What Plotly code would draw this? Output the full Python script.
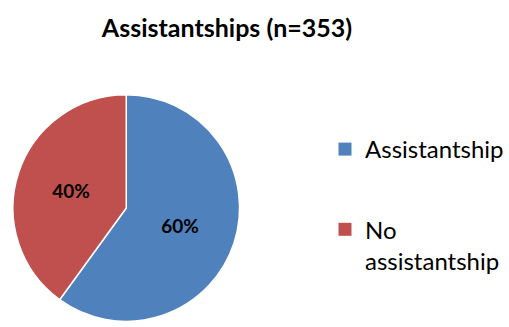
import plotly.graph_objects as go

labels = ["Assistantship", "No<br>assistantship"]
values = [60, 40]
colors = ["#4F81BD", "#C0504D"]
title_text = "Assistantships (n=353)"

W, H = 509, 327
fig = go.Figure()

fig.add_trace(go.Pie(
    labels=labels, values=values, sort=False, direction="clockwise", rotation=0,
    marker=dict(colors=colors, line=dict(color="white", width=1.5)),
    texttemplate="<b>%{percent:.0%}</b>", textposition="inside",
    insidetextorientation="horizontal",
    textfont=dict(family="Lato", size=19, color="black"),
    showlegend=False, hoverinfo="label+percent",
    domain=dict(x=[13 / W, 241 / W], y=[1 - 322 / H, 1 - 94 / H]),
))

for i, (lab, col) in enumerate(zip(labels, colors)):
    fig.add_trace(go.Scatter(
        x=[None], y=[None], mode="markers", name=lab,
        marker=dict(symbol="square", size=13, color=col),
        legendgroup=f"g{i}", showlegend=True,
    ))

fig.update_layout(
    width=W, height=H, margin=dict(l=0, r=0, t=0, b=0),
    paper_bgcolor="white", plot_bgcolor="white",
    title=dict(text=f"<b>{title_text}</b>", x=227 / W, xanchor="center",
               y=1 - 28 / H, yanchor="middle", yref="container",
               font=dict(family="Lato", size=25, color="black")),
    xaxis=dict(visible=False), yaxis=dict(visible=False),
    legend=dict(x=327 / W, xanchor="left", y=1 - 127 / H, yanchor="top",
                font=dict(family="Lato", size=24, color="black"),
                valign="top", tracegroupgap=46, itemwidth=30,
                bgcolor="rgba(0,0,0,0)"),
)

fig.write_html("out.html")
